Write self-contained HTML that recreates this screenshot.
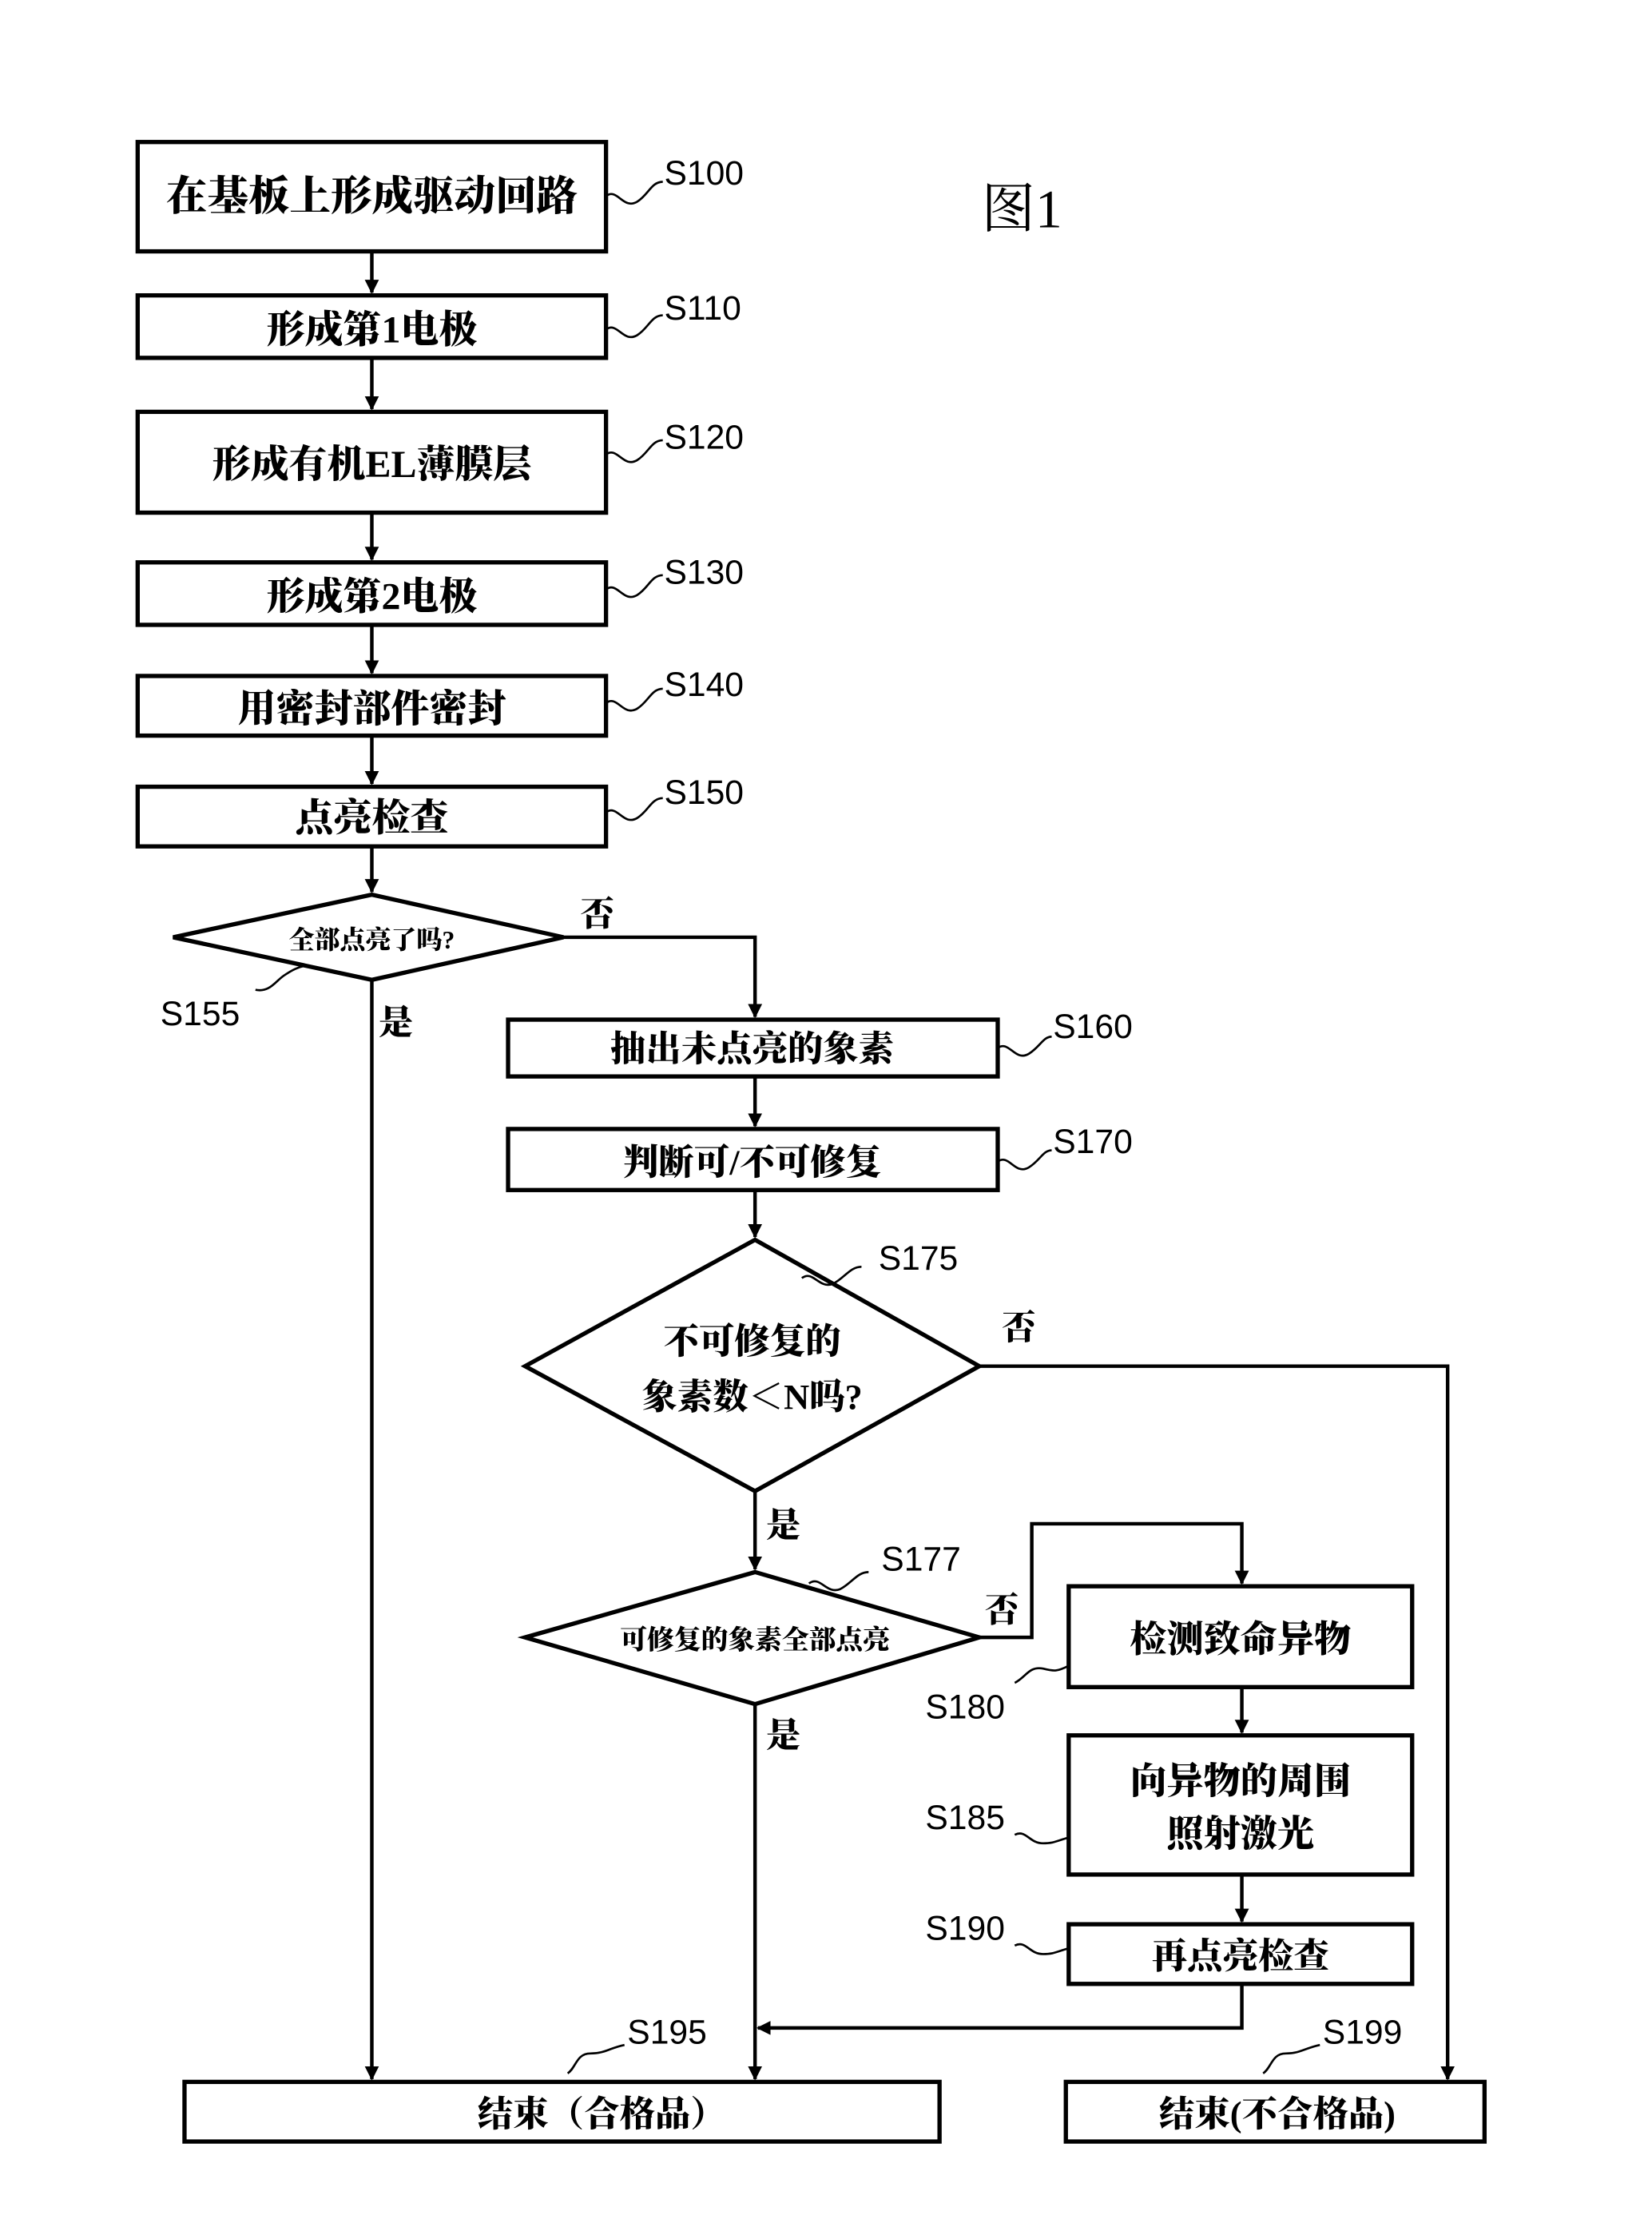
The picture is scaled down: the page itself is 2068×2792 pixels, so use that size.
<!DOCTYPE html>
<html><head><meta charset="utf-8"><style>
html,body{margin:0;padding:0;background:#fff;}
svg{display:block;}
.t{font-family:"Liberation Serif","Noto Serif CJK SC",serif;font-weight:900;fill:#000;}
.l{font-family:"Liberation Sans",sans-serif;font-size:24px;fill:#000;}
</style></head><body>
<svg width="2068" height="2792" viewBox="0 0 1164 1571" preserveAspectRatio="none" xmlns="http://www.w3.org/2000/svg">
<defs><marker id="a" markerWidth="10" markerHeight="10" refX="9" refY="5" orient="auto" markerUnits="userSpaceOnUse"><path d="M0,0 L10,5 L0,10 z" fill="#000"/></marker></defs>
<g fill="none" stroke="#000" stroke-width="3">
<rect x="97" y="100" width="330" height="77"/>
<rect x="97" y="208" width="330" height="44"/>
<rect x="97" y="290" width="330" height="71"/>
<rect x="97" y="396" width="330" height="44"/>
<rect x="97" y="476" width="330" height="42"/>
<rect x="97" y="554" width="330" height="42"/>
<polygon points="122,660 262,630 397,660 262,690"/>
<rect x="358" y="718" width="345" height="40"/>
<rect x="358" y="795" width="345" height="43"/>
<polygon points="370,962 532,873 690,962 532,1050"/>
<polygon points="370,1153 532,1107 690,1153 532,1200"/>
<rect x="753" y="1117" width="242" height="71"/>
<rect x="753" y="1222" width="242" height="98"/>
<rect x="753" y="1355" width="242" height="42"/>
<rect x="130" y="1466" width="532" height="42"/>
<rect x="751" y="1466" width="295" height="42"/>
</g>
<g fill="none" stroke="#000" stroke-width="2.5" marker-end="url(#a)">
<path d="M262,177 V206"/><path d="M262,252 V288"/><path d="M262,361 V394"/>
<path d="M262,440 V474"/><path d="M262,518 V552"/><path d="M262,596 V628"/>
<path d="M397,660 H532 V716"/>
<path d="M262,690 V1464"/>
<path d="M532,758 V793"/><path d="M532,838 V871"/>
<path d="M690,962 H1020 V1464"/>
<path d="M532,1050 V1105"/>
<path d="M690,1153 H727 V1073 H875 V1115"/>
<path d="M875,1188 V1220"/><path d="M875,1320 V1353"/>
<path d="M875,1397 V1428 H534"/>
<path d="M532,1200 V1464"/>
</g>
<g fill="none" stroke="#000" stroke-width="1.5">
<path d="M427,138 c8,-6 12,10 22,4 c8,-5 10,-14 18,-14"/>
<path d="M427,232 c8,-6 12,10 22,4 c8,-5 10,-14 18,-14"/>
<path d="M427,320 c8,-6 12,10 22,4 c8,-5 10,-14 18,-14"/>
<path d="M427,415 c8,-6 12,10 22,4 c8,-5 10,-14 18,-14"/>
<path d="M427,495 c8,-6 12,10 22,4 c8,-5 10,-14 18,-14"/>
<path d="M427,572 c8,-6 12,10 22,4 c8,-5 10,-14 18,-14"/>
<path d="M180,697 c10,2 14,-6 20,-10 c6,-4 10,-6 15,-7"/>
<path d="M703,738 c8,-6 12,10 22,4 c8,-5 10,-12 16,-12"/>
<path d="M703,818 c8,-6 12,10 22,4 c8,-5 10,-12 16,-12"/>
<path d="M565,900 c8,-6 12,8 22,4 c8,-4 12,-12 20,-12"/>
<path d="M570,1115 c8,-6 12,8 22,4 c8,-4 12,-12 20,-12"/>
<path d="M715,1185 c8,-4 10,-12 20,-10 c8,2 10,2 18,-2"/>
<path d="M715,1292 c8,-4 10,6 20,6 c8,0 10,-2 18,-4"/>
<path d="M715,1370 c8,-4 10,6 20,6 c8,0 10,-2 18,-4"/>
<path d="M400,1460 c6,-4 6,-14 16,-14 c10,0 14,-4 24,-6"/>
<path d="M890,1460 c6,-4 6,-14 16,-14 c10,0 14,-4 24,-6"/>
</g>
<g class="t" text-anchor="middle">
<text x="262" y="148" font-size="29">在基板上形成驱动回路</text>
<text x="262" y="241" font-size="27">形成第1电极</text>
<text x="262" y="336" font-size="27">形成有机EL薄膜层</text>
<text x="262" y="429" font-size="27">形成第2电极</text>
<text x="262" y="508" font-size="27">用密封部件密封</text>
<text x="262" y="585" font-size="27">点亮检查</text>
<text x="262" y="668" font-size="18">全部点亮了吗?</text>
<text x="530" y="747" font-size="25">抽出未点亮的象素</text>
<text x="530" y="827" font-size="25">判断可/不可修复</text>
<text x="530" y="953" font-size="25">不可修复的</text>
<text x="530" y="992" font-size="25">象素数＜N吗?</text>
<text x="532" y="1161" font-size="19">可修复的象素全部点亮</text>
<text x="874" y="1163" font-size="26">检测致命异物</text>
<text x="874" y="1263" font-size="26">向异物的周围</text>
<text x="874" y="1300" font-size="26">照射激光</text>
<text x="874" y="1386" font-size="25">再点亮检查</text>
<text x="424" y="1497" font-size="25">结束（合格品）</text>
<text x="900" y="1497" font-size="25">结束(不合格品)</text>
<text x="720" y="160" font-size="38" font-weight="400">图1</text>
</g>
<g class="t" font-size="24">
<text x="409" y="652">否</text>
<text x="267" y="728">是</text>
<text x="706" y="943">否</text>
<text x="540" y="1082">是</text>
<text x="694" y="1142">否</text>
<text x="540" y="1230">是</text>
</g>
<g class="l">
<text x="468" y="130">S100</text>
<text x="468" y="225">S110</text>
<text x="468" y="316">S120</text>
<text x="468" y="411">S130</text>
<text x="468" y="490">S140</text>
<text x="468" y="566">S150</text>
<text x="113" y="722">S155</text>
<text x="742" y="731">S160</text>
<text x="742" y="812">S170</text>
<text x="619" y="894">S175</text>
<text x="621" y="1106">S177</text>
<text x="652" y="1210">S180</text>
<text x="652" y="1288">S185</text>
<text x="652" y="1366">S190</text>
<text x="442" y="1439">S195</text>
<text x="932" y="1439">S199</text>
</g>
</svg>
</body></html>
